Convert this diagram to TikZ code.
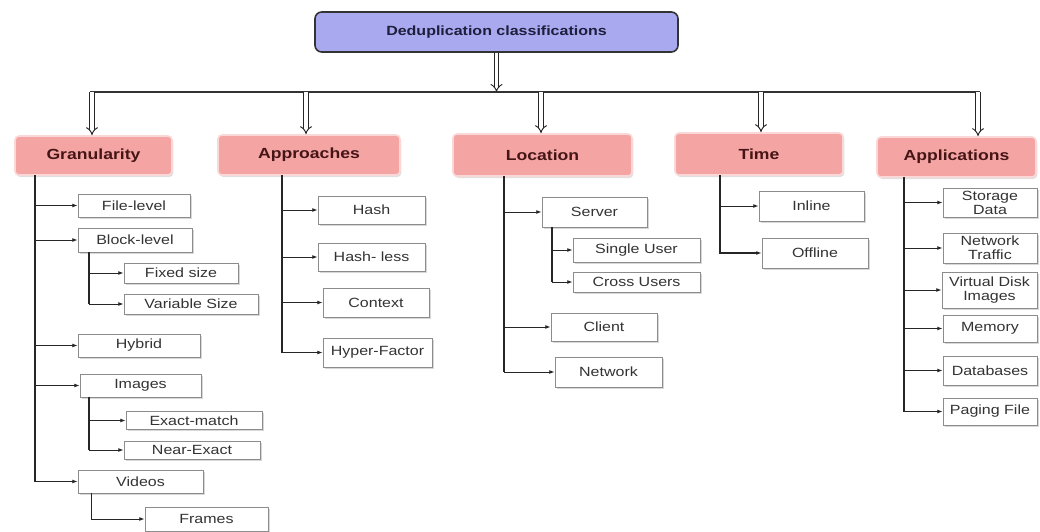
\documentclass[tikz,border=0pt]{standalone}
\usepackage{fontspec}
\setmainfont{Liberation Sans}[FakeStretch=1.2]
\usetikzlibrary{arrows.meta,shadows}
\definecolor{rootc}{HTML}{A9A9F0}
\definecolor{catc}{HTML}{F5A4A4}
\definecolor{catb}{HTML}{FBD8D8}
\definecolor{catt}{HTML}{451515}
\definecolor{roott}{HTML}{1E1E3C}
\begin{document}
\begin{tikzpicture}[x=0.75pt,y=-0.75pt,
 rootbox/.style={draw=black!80, line width=1.2pt, fill=rootc, rounded corners=5pt,
   font=\fontsize{10}{12}\selectfont\bfseries, text=roott},
 catbox/.style={draw=catb, line width=1.2pt, fill=catc, rounded corners=3pt,
   drop shadow={shadow xshift=1pt,shadow yshift=-1.5pt,fill=black!25},
   font=\fontsize{11}{13}\selectfont\bfseries, text=catt},
 leaf/.style={draw=black!45, line width=0.6pt, fill=white,
   drop shadow={shadow xshift=1.2pt,shadow yshift=-1.2pt,fill=black!30},
   font=\fontsize{10}{10.5}\selectfont, text=black!80, inner sep=0.5pt, align=center},
 sz/.style 2 args={minimum width=#1*0.75pt, minimum height=#2*0.75pt},
 conn/.style={draw=black!85, line width=0.7pt, -{Latex[length=4pt,width=3pt]}},
 trunkline/.style={draw=black!85, line width=1.1pt},
 bigarrow/.style={draw=black!85, line width=0.7pt, double=white, double distance=2.4pt, -{Implies}},
 hbar/.style={draw=black!80, line width=1.5pt},
]
\useasboundingbox (0,0) rectangle (1040,532);

% root
\node[rootbox, sz={363}{40}] (root) at (496.5,32) {Deduplication classifications};

% categories
\node[catbox, sz={157}{39}] (gran) at (93.5,155.5) {Granularity};
\node[catbox, sz={182}{40}] (appr) at (309,155) {Approaches};
\node[catbox, sz={179}{42}] (loc)  at (542.5,155) {Location};
\node[catbox, sz={168}{42}] (time) at (759,154) {Time};
\node[catbox, sz={159}{40}] (apps) at (956.5,157) {Applications};

% bar and big arrows
\coordinate (hl) at (90,92);
\coordinate (hr) at (980,92);
\coordinate (h1) at (92,92);
\coordinate (h2) at (306,92);
\coordinate (h3) at (541,92);
\coordinate (h4) at (761,92);
\coordinate (h5) at (978,92);
\draw[hbar] (hl) -- (hr);
\draw[bigarrow] (root.south) -- (root.south |- hl);
\draw[bigarrow] (h1) -- (gran.north -| h1);
\draw[bigarrow] (h2) -- (appr.north -| h2);
\draw[bigarrow] (h3) -- (loc.north -| h3);
\draw[bigarrow] (h4) -- (time.north -| h4);
\draw[bigarrow] (h5) -- (apps.north -| h5);

% Granularity children
\node[leaf, sz={112}{23}] (file)   at (134,205.5) {File-level};
\node[leaf, sz={114}{24}] (block)  at (135,240) {Block-level};
\node[leaf, sz={114}{20}] (fixed)  at (181,273) {Fixed size};
\node[leaf, sz={134}{20}] (vars)   at (191,304) {Variable Size};
\node[leaf, sz={122}{23}] (hybrid) at (139,345.5) {Hybrid};
\node[leaf, sz={121}{23}] (images) at (140.5,385.5) {Images};
\node[leaf, sz={136}{18}] (exact)  at (194,420.5) {Exact-match};
\node[leaf, sz={136}{18}] (near)   at (192,450) {Near-Exact};
\node[leaf, sz={125}{23}] (videos) at (140.5,481.5) {Videos};
\node[leaf, sz={123}{24}] (frames) at (206.5,519) {Frames};

\coordinate (gt) at (35,175);
\coordinate (bt) at (89,252);
\coordinate (it) at (89,397);
\coordinate (vt) at (91,493);
\draw[trunkline] (gt) -- (gt |- videos.west);
\draw[trunkline] (bt) -- (bt |- vars.west);
\draw[trunkline] (it) -- (it |- near.west);
\foreach \c in {file,block,hybrid,images,videos} \draw[conn] (gt) |- (\c.west);
\draw[conn] (bt) |- (fixed.west);
\draw[conn] (bt) |- (vars.west);
\draw[conn] (it) |- (exact.west);
\draw[conn] (it) |- (near.west);
\draw[conn] (vt) |- (frames.west);

% Approaches children
\node[leaf, sz={107}{28}] (hash)    at (371.5,210) {Hash};
\node[leaf, sz={107}{28}] (hashless) at (371.5,257) {Hash- less};
\node[leaf, sz={106}{29}] (context) at (376,302.5) {Context};
\node[leaf, sz={109}{29}] (hyper)   at (377.5,352.5) {Hyper-Factor};
\coordinate (at) at (282,175);
\draw[trunkline] (at) -- (at |- hyper.west);
\foreach \c in {hash,hashless,context,hyper} \draw[conn] (at) |- (\c.west);

% Location children
\node[leaf, sz={105}{30}] (server)  at (594.5,212) {Server};
\node[leaf, sz={127}{24}] (single)  at (636.5,250) {Single User};
\node[leaf, sz={127}{20}] (cross)   at (636.5,282) {Cross Users};
\node[leaf, sz={106}{28}] (client)  at (604,327) {Client};
\node[leaf, sz={107}{30}] (network) at (608.5,372) {Network};
\coordinate (lt) at (504,176);
\coordinate (st) at (552,227);
\draw[trunkline] (lt) -- (lt |- network.west);
\draw[trunkline] (st) -- (st |- cross.west);
\foreach \c in {server,client,network} \draw[conn] (lt) |- (\c.west);
\draw[conn] (st) |- (single.west);
\draw[conn] (st) |- (cross.west);

% Time children
\node[leaf, sz={105}{30}] (inline)  at (811.5,206) {Inline};
\node[leaf, sz={106}{30}] (offline) at (815,253) {Offline};
\coordinate (tt) at (720,175);
\draw[trunkline] (tt) -- (tt |- offline.west);
\draw[conn] (tt) |- (inline.west);
\draw[conn, line width=1.2pt] (tt) |- (offline.west);

% Applications children
\node[leaf, sz={94}{29}] (storage)  at (990,202.5) {Storage\\Data};
\node[leaf, sz={94}{30}] (traffic)  at (990,248) {Network\\Traffic};
\node[leaf, sz={95}{36}] (vdisk)    at (989.5,290) {Virtual Disk\\Images};
\node[leaf, sz={94}{27}] (memory)   at (990,328.5) {Memory};
\node[leaf, sz={94}{29}] (dbs)      at (990,370.5) {Databases};
\node[leaf, sz={94}{27}] (paging)   at (990,411.5) {Paging File};
\coordinate (pt) at (904,177);
\draw[trunkline] (pt) -- (pt |- paging.west);
\foreach \c in {storage,traffic,vdisk,dbs,paging} \draw[conn] (pt) |- (\c.west);
\draw[conn, line width=1.2pt] (pt) |- (memory.west);
\end{tikzpicture}
\end{document}
